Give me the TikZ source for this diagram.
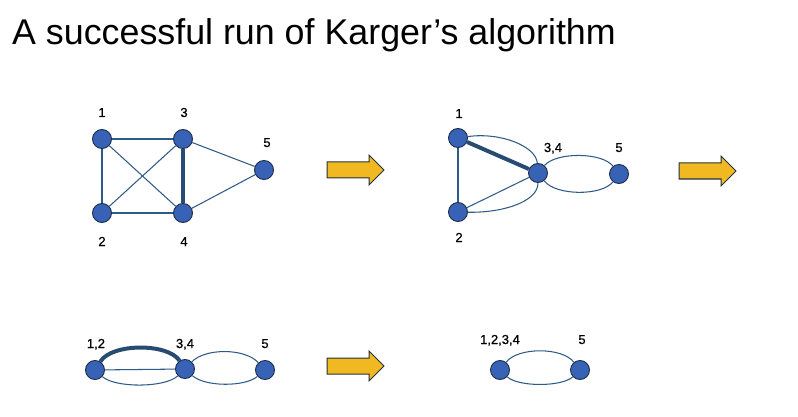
\documentclass[tikz,border=0pt]{standalone}
\usepackage{fontspec}
\setmainfont{Liberation Sans}
\newfontface\lblface[FakeBold=0.7]{Liberation Sans}
\definecolor{vfill}{HTML}{3762B5}
\definecolor{vline}{HTML}{1F2F4A}
\definecolor{eline}{HTML}{2F5A85}
\definecolor{afill}{HTML}{F0B922}
\definecolor{aline}{HTML}{24313F}
\tikzset{
  vertex/.style={circle, fill=vfill, draw=vline, line width=0.9pt, minimum size=19pt, inner sep=0pt},
  vlabel/.style={anchor=base, font=\lblface\fontsize{13}{15}\selectfont, inner sep=0pt},
  edge/.style={draw=eline, line width=1.05pt},
  chosen/.style={draw=eline!85!black, line width=4pt},
  pics/stepper/.style={code={
    \draw[fill=afill, draw=aline, line width=1pt, line join=miter]
      (0,-8) -- (42,-8) -- (42,-15) -- (57,0) -- (42,15) -- (42,8) -- (0,8) -- cycle;
  }}
}
\begin{document}
\begin{tikzpicture}[x=1pt, y=-1pt]
\useasboundingbox (0,0) rectangle (798,417);

% title
\node[anchor=base west, inner sep=0pt, font=\fontsize{35.8}{42}\selectfont] (title) at (12,45) {A successful run of Karger’s algorithm};

% first graph: five vertices
\node[vertex] (g1) at (102,139) {};
\node[vertex] (g3) at (183,139) {};
\node[vertex] (g2) at (102,213) {};
\node[vertex] (g4) at (183,213) {};
\node[vertex] (g5) at (264,170) {};
\node[vlabel] (l1) at (102,117) {1};
\node[vlabel] (l3) at (184,117) {3};
\node[vlabel] (l5) at (267,147) {5};
\node[vlabel] (l2) at (102,246) {2};
\node[vlabel] (l4) at (184,246) {4};
\draw[edge] (g1) -- (g3);
\draw[edge] (g1) -- (g2);
\draw[edge] (g2) -- (g4);
\draw[edge] (g1) -- (g4);
\draw[edge] (g2) -- (g3);
\draw[edge] (g3) -- (g5);
\draw[edge] (g4) -- (g5);
\draw[chosen] (g3) -- (g4);

% second graph: 3 and 4 merged
\node[vertex] (h1) at (458,138) {};
\node[vertex] (h2) at (458,212) {};
\node[vertex] (h34) at (538,173) {};
\node[vertex] (h5) at (619,174) {};
\node[vlabel] (m1) at (459,118) {1};
\node[vlabel] (m2) at (459,242) {2};
\node[vlabel] (m34) at (553,152) {3,4};
\node[vlabel] (m5) at (619,152) {5};
\draw[edge] (h1) -- (h2);
\draw[edge] (h2) -- (h34);
\draw[edge] (h1) .. controls (500,132) and (536,146) .. (h34);
\draw[edge] (h2) .. controls (502,213) and (538,202) .. (h34);
\draw[edge] (h34) .. controls (556,152) and (602,152) .. (h5);
\draw[edge] (h34) .. controls (556,196) and (602,196) .. (h5);
\draw[chosen] (h1) -- (h34);

% third graph: 1 and 2 merged
\node[vertex] (k12) at (95,370) {};
\node[vertex] (k34) at (185,369) {};
\node[vertex] (k5) at (265,370) {};
\node[vlabel] (n12) at (96,348) {1,2};
\node[vlabel] (n34) at (185,348) {3,4};
\node[vlabel] (n5) at (265,348) {5};
\draw[edge] (k12) -- (k34);
\draw[edge] (k12) .. controls (115,388) and (165,388) .. (k34);
\draw[edge] (k34) .. controls (205,348) and (245,348) .. (k5);
\draw[edge] (k34) .. controls (205,387) and (245,387) .. (k5);
\draw[chosen] (k12) .. controls (112,343) and (168,343) .. (k34);

% final graph: two super-vertices
\node[vertex] (f1) at (500,370) {};
\node[vertex] (f5) at (580,370) {};
\node[vlabel] (o1) at (500,344) {1,2,3,4};
\node[vlabel] (o5) at (582,344) {5};
\draw[edge] (f1) .. controls (518,347) and (562,347) .. (f5);
\draw[edge] (f1) .. controls (518,387) and (562,387) .. (f5);

% contraction arrows
\pic at (327,170) {stepper};
\pic at (679,171) {stepper};
\pic at (327,366) {stepper};
\end{tikzpicture}
\end{document}
